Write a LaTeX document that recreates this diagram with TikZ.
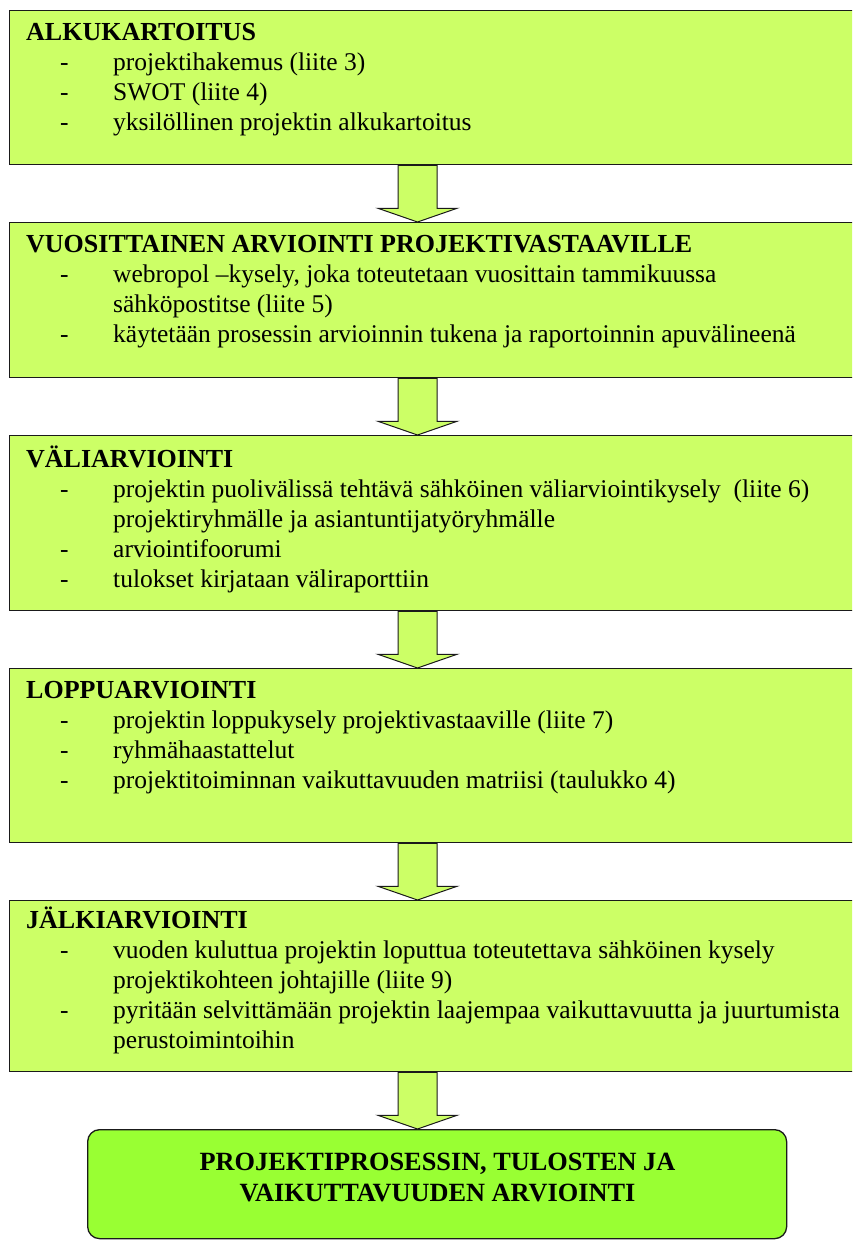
\documentclass[tikz,border=0pt]{standalone}
\usepackage{fontspec}
\setmainfont{Liberation Serif}
\usetikzlibrary{calc}

\definecolor{boxgreen}{HTML}{CCFF66}
\definecolor{resultgreen}{HTML}{99FF33}
\definecolor{edge}{HTML}{1A1A1A}

% one dashed list entry inside a stage box
\newcommand\itemline[1]{\par\noindent\llap{\makebox[53pt][l]{-}}#1}
% heading plus list of a stage box
\newcommand\boxtext[2]{\parbox[t]{820pt}{\fontsize{25.5}{30}\selectfont
  {\fontsize{26}{30}\selectfont\textbf{#1}}\par\leftskip=87pt #2\par}}
% wide block arrow from the bottom of one box to the top of the next
\newcommand\blockarrow[2]{%
  \draw[arrowbody]
    ($(ax |- #1.south)+(-19.5pt,0)$) --
    ($(ax |- #1.south)+(-19.5pt,-43pt)$) --
    ($(ax |- #1.south)+(-39.5pt,-43pt)$) --
    (ax |- #2.north) --
    ($(ax |- #1.south)+(39.5pt,-43pt)$) --
    ($(ax |- #1.south)+(19.5pt,-43pt)$) --
    ($(ax |- #1.south)+(19.5pt,0)$) -- cycle;}

\begin{document}
\begin{tikzpicture}[x=1pt,y=-1pt,
  stagebox/.style={rectangle, draw=edge, line width=1.3pt, fill=boxgreen,
    anchor=north west, minimum width=850pt, inner sep=0pt},
  resultbox/.style={rectangle, draw=edge, line width=1.3pt, fill=resultgreen,
    rounded corners=12pt, anchor=north west, inner sep=0pt},
  arrowbody/.style={draw=edge, line width=1pt, fill=boxgreen, line join=miter},
  stagetext/.style={anchor=base west, inner sep=0pt},
  resulttext/.style={anchor=base, inner sep=0pt,
    font=\fontsize{26.3}{30}\selectfont\bfseries}]

\useasboundingbox (0,0) rectangle (852,1240);
\clip (0,0) rectangle (852,1240);
\fill[white] (0,0) rectangle (852,1240);

\coordinate (ax) at (417.5,0);

% stage boxes
\node[stagebox, minimum height=154pt] (b1) at (9,10) {};
\node[stagebox, minimum height=155pt] (b2) at (9,222) {};
\node[stagebox, minimum height=175pt] (b3) at (9,435) {};
\node[stagebox, minimum height=174pt] (b4) at (9,668) {};
\node[stagebox, minimum height=171pt] (b5) at (9,900) {};
\node[resultbox, minimum width=699pt, minimum height=109pt] (fin) at (87,1129) {};

% arrows between the stages
\blockarrow{b1}{b2}
\blockarrow{b2}{b3}
\blockarrow{b3}{b4}
\blockarrow{b4}{b5}
\blockarrow{b5}{fin}

% texts of the stages
\node[stagetext] (t1) at (26,40) {\boxtext{ALKUKARTOITUS}{%
  \itemline{projektihakemus (liite 3)}
  \itemline{SWOT (liite 4)}
  \itemline{yksilöllinen projektin alkukartoitus}}};

\node[stagetext] (t2) at (26,252) {\boxtext{VUOSITTAINEN ARVIOINTI PROJEKTIVASTAAVILLE}{%
  \itemline{webropol –kysely, joka toteutetaan vuosittain tammikuussa\newline sähköpostitse (liite 5)}
  \itemline{käytetään prosessin arvioinnin tukena ja raportoinnin apuvälineenä}}};

\node[stagetext] (t3) at (26,467) {\boxtext{VÄLIARVIOINTI}{%
  \itemline{projektin puolivälissä tehtävä sähköinen väliarviointikysely\ \ (liite 6)\newline projektiryhmälle ja asiantuntijatyöryhmälle}
  \itemline{arviointifoorumi}
  \itemline{tulokset kirjataan väliraporttiin}}};

\node[stagetext] (t4) at (26,698) {\boxtext{LOPPUARVIOINTI}{%
  \itemline{projektin loppukysely projektivastaaville (liite 7)}
  \itemline{ryhmähaastattelut}
  \itemline{projektitoiminnan vaikuttavuuden matriisi (taulukko 4)}}};

\node[stagetext] (t5) at (26,928) {\boxtext{JÄLKIARVIOINTI}{%
  \itemline{vuoden kuluttua projektin loputtua toteutettava sähköinen kysely\newline projektikohteen johtajille (liite 9)}
  \itemline{pyritään selvittämään projektin laajempaa vaikuttavuutta ja juurtumista\newline perustoimintoihin}}};

% result box text
\node[resulttext] (f1) at (437.5,1170) {PROJEKTIPROSESSIN, TULOSTEN JA};
\node[resulttext] (f2) at (437.5,1201) {VAIKUTTAVUUDEN ARVIOINTI};

\end{tikzpicture}
\end{document}
